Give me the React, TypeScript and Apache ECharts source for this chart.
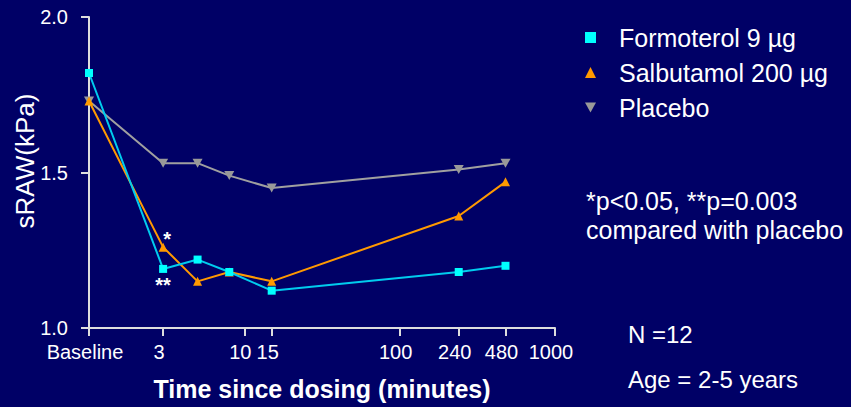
import React, { useEffect, useRef } from "react";
import * as echarts from "echarts";

// time in minutes; Baseline is plotted at 1 min on the log axis
const times = [1, 3, 5, 8, 15, 240, 480];
const formoterol = [1.82, 1.19, 1.22, 1.18, 1.12, 1.18, 1.2];
const salbutamol = [1.73, 1.26, 1.15, 1.18, 1.15, 1.36, 1.47];
const placebo = [1.73, 1.53, 1.53, 1.49, 1.45, 1.51, 1.53];

const tickValues = [1, 3, 10, 15, 100, 240, 480, 1000];
const tickLabels = ["Baseline", "3", "10", "15", "100", "240", "480", "1000"];

const seriesNames = ["Formoterol 9 \u00b5g", "Salbutamol 200 \u00b5g", "Placebo"];
const yTicks = [1.0, 1.5, 2.0];

const FONT = "Liberation Sans, Arial, sans-serif";
const DOWN_TRI = "path://M0,0 L10,0 L5,9 Z";

export default function App() {
  const ref = useRef<HTMLDivElement>(null);
  useEffect(() => {
    document.body.style.margin = "0";
    if (!ref.current) return;
    const chart = echarts.init(ref.current, undefined, { renderer: "svg" });
    const lx = (t: number) => Math.log10(t);
    const labelFor = (v: number) => {
      let best = 0;
      let bd = Infinity;
      tickValues.forEach((t, i) => {
        const d = Math.abs(lx(t) - v);
        if (d < bd) {
          bd = d;
          best = i;
        }
      });
      return tickLabels[best];
    };
    const pts = (vals: number[]) => vals.map((v, i) => [lx(times[i]), v]);
    const fData = pts(formoterol).map((p, i) =>
      i === 1
        ? {
            value: p,
            label: {
              show: true,
              formatter: "**",
              position: "bottom",
              distance: 2,
              color: "#ffffff",
              fontSize: 20,
              fontWeight: "bold",
              fontFamily: FONT,
            },
          }
        : p
    );
    const sData = pts(salbutamol).map((p, i) =>
      i === 1
        ? {
            value: p,
            label: {
              show: true,
              formatter: "*",
              position: "top",
              distance: 0,
              offset: [4, 6],
              color: "#ffffff",
              fontSize: 20,
              fontWeight: "bold",
              fontFamily: FONT,
            },
          }
        : p
    );
    chart.setOption({
      animation: false,
      backgroundColor: "#000066",
      textStyle: { fontFamily: FONT },
      grid: { left: 89, right: 296, top: 17, bottom: 79 },
      legend: {
        orient: "vertical",
        left: 580,
        top: 20,
        itemWidth: 11,
        itemHeight: 11,
        itemGap: 10,
        textStyle: { color: "#ffffff", fontSize: 25, lineHeight: 25, padding: [0, 0, 0, 18], fontFamily: FONT },
        data: [
          { name: seriesNames[0], icon: "rect" },
          { name: seriesNames[1], icon: "triangle" },
          { name: seriesNames[2], icon: DOWN_TRI },
        ],
      },
      xAxis: {
        type: "value",
        min: 0,
        max: 3,
        name: "Time since dosing (minutes)",
        nameLocation: "middle",
        nameGap: 48,
        nameTextStyle: { color: "#ffffff", fontSize: 25, fontWeight: "bold", fontFamily: FONT },
        axisLine: { show: true, lineStyle: { color: "#dddddd", width: 2 } },
        axisTick: { show: true, length: 8, customValues: tickValues.map(lx), lineStyle: { color: "#dddddd", width: 2 } },
        axisLabel: {
          customValues: tickValues.map(lx),
          formatter: (v: number) => labelFor(v),
          color: "#ffffff",
          fontSize: 20,
          margin: 14,
          padding: [0, 8, 0, 0],
          fontFamily: FONT,
        },
        splitLine: { show: false },
      },
      yAxis: {
        type: "value",
        min: 1,
        max: 2,
        interval: 0.5,
        axisLine: { show: true, lineStyle: { color: "#dddddd", width: 2 } },
        axisTick: { show: true, length: 8, customValues: yTicks, lineStyle: { color: "#dddddd", width: 2 } },
        axisLabel: {
          customValues: yTicks,
          formatter: (v: number) => v.toFixed(1),
          color: "#ffffff",
          fontSize: 20,
          margin: 21,
          padding: [3, 0, 0, 0],
          fontFamily: FONT,
        },
        splitLine: { show: false },
      },
      graphic: [
        {
          type: "text",
          x: 25,
          y: 161,
          rotation: Math.PI / 2,
          style: { text: "sRAW(kPa)", fill: "#ffffff", fontSize: 26, fontFamily: FONT, align: "center", verticalAlign: "middle" },
        },
        {
          type: "text",
          left: 586,
          top: 186,
          style: { text: "*p<0.05, **p=0.003\ncompared with placebo", fill: "#ffffff", fontSize: 25, lineHeight: 29, fontFamily: FONT },
        },
        {
          type: "text",
          left: 628,
          top: 322,
          style: { text: "N =12", fill: "#ffffff", fontSize: 24, fontFamily: FONT },
        },
        {
          type: "text",
          left: 628,
          top: 367,
          style: { text: "Age = 2-5 years", fill: "#ffffff", fontSize: 24, fontFamily: FONT },
        },
      ],
      series: [
        {
          name: seriesNames[2],
          type: "line",
          data: pts(placebo),
          symbol: DOWN_TRI,
          symbolSize: [10, 9],
          itemStyle: { color: "#999999" },
          lineStyle: { color: "#a0a0a0", width: 2 },
          z: 2,
        },
        {
          name: seriesNames[1],
          type: "line",
          data: sData,
          symbol: "triangle",
          symbolSize: 9,
          itemStyle: { color: "#ff9900" },
          lineStyle: { color: "#ff9900", width: 2 },
          z: 3,
        },
        {
          name: seriesNames[0],
          type: "line",
          data: fData,
          symbol: "rect",
          symbolSize: 8,
          itemStyle: { color: "#00ffff" },
          lineStyle: { color: "#00ccee", width: 2 },
          z: 4,
        },
      ],
    });
    return () => chart.dispose();
  }, []);
  return <div ref={ref} style={{ width: 851, height: 407 }} />;
}
